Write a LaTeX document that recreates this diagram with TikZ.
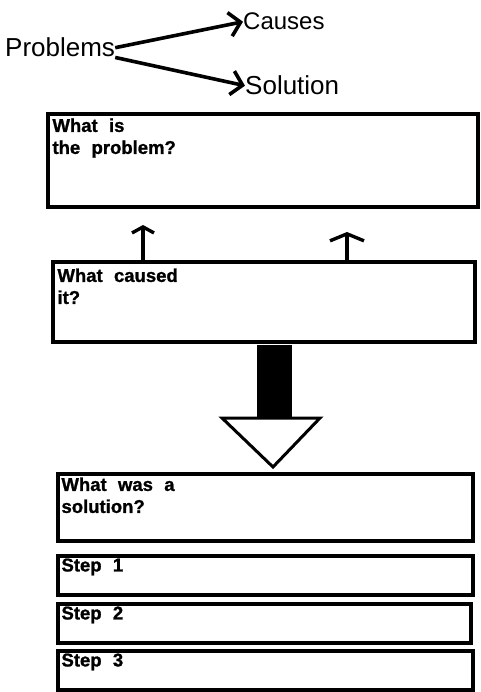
\documentclass[tikz,border=0pt]{standalone}
\usepackage{fontspec}
\setmainfont{Liberation Sans}[WordSpace=1.8]
\newfontfamily\boxfont{Liberation Sans Bold}[WordSpace=2.2,FakeBold=1.2]
\usetikzlibrary{arrows.meta,positioning}

\begin{document}
\begin{tikzpicture}[
  x=1pt,y=-1pt,
  qbox/.style={draw,line width=3.4pt,minimum width=415pt,minimum height=39pt,inner sep=0pt},
  qtext/.style={font=\fontsize{18.5}{22}\selectfont\boxfont,align=left,inner sep=0pt},
  bigword/.style={font=\fontsize{26}{30}\selectfont,inner sep=0pt,anchor=base west},
  fanarrow/.style={line width=3.6pt,-{Straight Barb[length=11pt,width=24pt]}},
  uparrow/.style={line width=3.4pt,-{Straight Barb[length=6pt,width=22pt]}}
]
  \useasboundingbox (0,0) rectangle (480,692);
  % Header: problems fan out to causes and solution
  \node[bigword] (problems) at (5,57) {Problems};
  \node[bigword,font=\fontsize{24}{28}\selectfont] (causes) at (243,30) {Causes};
  \node[bigword] (solution) at (245,95) {Solution};
  \draw[fanarrow] (problems.east) -- (causes.west);
  \draw[fanarrow] (problems.south east) -- (solution.west);
  % Box 1: the problem
  \node[qbox,minimum width=430pt,minimum height=93pt] (problem) at (263,160.5) {};
  \node[qtext,below right=6pt and 6pt of problem.north west] (problemtxt) {What is\\the problem?};
  % Box 2: the cause
  \node[qbox,minimum width=422pt,minimum height=80pt] (cause) at (264,302) {};
  \node[qtext,below right=8pt and 6pt of cause.north west] (causetxt) {What caused\\it?};
  % Small arrows from cause up to problem
  \coordinate (tipa) at (143,225);
  \coordinate (tipb) at (347,232);
  \draw[uparrow] (tipa |- cause.north) -- (tipa);
  \draw[uparrow,-{Straight Barb[length=7pt,width=34pt]}] (tipb |- cause.north) -- (tipb);
  % Big arrow down to the solution
  \fill (257,345) rectangle (292,418);
  \draw[line width=3pt,fill=white] (222,418) -- (320,418) -- (273,467) -- cycle;
  % Box 3: the solution
  \node[qbox,minimum height=67pt] (sol) at (265.5,507.5) {};
  \node[qtext,below right=5pt and 5pt of sol.north west] (soltxt) {What was a\\solution?};
  % Steps
  \node[qbox] (stepa) at (265.5,575.5) {};
  \node[qtext,below right=4pt and 5pt of stepa.north west] (stepatxt) {Step 1};
  \node[qbox,minimum width=413pt] (stepb) at (264.5,623.5) {};
  \node[qtext,below right=4pt and 5pt of stepb.north west] (stepbtxt) {Step 2};
  \node[qbox] (stepc) at (265.5,670.5) {};
  \node[qtext,below right=4pt and 5pt of stepc.north west] (stepctxt) {Step 3};
\end{tikzpicture}
\end{document}
